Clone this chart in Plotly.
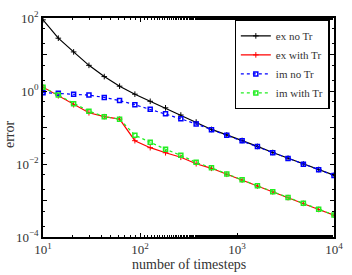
import numpy as np
import plotly.graph_objects as go

timesteps = list(np.logspace(1, 4, 20))

log_ex_no_tr = [1.95, 1.447, 1.071, 0.703, 0.395, 0.132, -0.087, -0.282, -0.461, -0.658,
                -0.850, -1.053, -1.203, -1.355, -1.518, -1.684, -1.842, -2.0, -2.150, -2.308]
log_ex_with_tr = [0.105, -0.132, -0.376, -0.597, -0.703, -0.771, -1.361, -1.553, -1.692, -1.816,
                  -1.992, -2.118, -2.282, -2.439, -2.605, -2.763, -2.921, -3.079, -3.245, -3.403]
log_im_no_tr = [-0.045, -0.061, -0.087, -0.113, -0.176, -0.263, -0.376, -0.5, -0.624, -0.763,
                -0.903, -1.06, -1.21, -1.36, -1.523, -1.689, -1.847, -2.005, -2.155, -2.313]
log_im_with_tr = [0.105, -0.113, -0.350, -0.553, -0.703, -0.771, -1.211, -1.403, -1.597, -1.763,
                  -1.955, -2.105, -2.275, -2.433, -2.599, -2.757, -2.915, -3.073, -3.239, -3.397]

ex_no_tr = [10 ** v for v in log_ex_no_tr]
ex_with_tr = [10 ** v for v in log_ex_with_tr]
im_no_tr = [10 ** v for v in log_im_no_tr]
im_with_tr = [10 ** v for v in log_im_with_tr]

font_family = "Liberation Serif"
gray = "#333333"

fig = go.Figure()
fig.add_trace(go.Scatter(x=timesteps, y=ex_no_tr, name="ex no Tr", mode="lines+markers",
                         line=dict(color="black", width=1.2),
                         marker=dict(symbol="cross-thin", size=4, line=dict(color="black", width=1))))
fig.add_trace(go.Scatter(x=timesteps, y=ex_with_tr, name="ex with Tr", mode="lines+markers",
                         line=dict(color="red", width=1.2),
                         marker=dict(symbol="cross-thin", size=4, line=dict(color="red", width=1))))
fig.add_trace(go.Scatter(x=timesteps, y=im_no_tr, name="im no Tr", mode="lines+markers",
                         line=dict(color="blue", width=1.2, dash="dot"),
                         marker=dict(symbol="square-open", size=4, color="blue", line=dict(width=1.5))))
fig.add_trace(go.Scatter(x=timesteps, y=im_with_tr, name="im with Tr", mode="lines+markers",
                         line=dict(color="#22ee22", width=1.2, dash="dot"),
                         marker=dict(symbol="square-open", size=4, color="#22ee22", line=dict(width=1.5))))

xt = [10, 100, 1000, 10000]
xtt = ["10<sup>1</sup>", "10<sup>2</sup>", "10<sup>3</sup>", "10<sup>4</sup>"]
yt = [1e-4, 1e-3, 1e-2, 1e-1, 1, 10, 100]
ytt = ["10<sup>−4</sup>", "", "10<sup>−2</sup>", "", "10<sup>0</sup>", "", "10<sup>2</sup>"]

axis_common = dict(type="log", showgrid=False, zeroline=False, showline=True, linecolor="black",
                   linewidth=1.5, mirror="allticks", ticks="inside", ticklen=4, tickcolor="black",
                   tickfont=dict(family=font_family, size=13, color=gray),
                   minor=dict(ticks="inside", ticklen=2, tickcolor="black", showgrid=False))

fig.update_xaxes(**axis_common, range=[1, 4], tickvals=xt, ticktext=xtt)
fig.update_yaxes(**axis_common, range=[-4, 2], tickvals=yt, ticktext=ytt)

fig.add_annotation(text="number of timesteps", xref="paper", yref="paper", x=0.5, y=-0.125,
                   xanchor="center", yanchor="middle", showarrow=False,
                   font=dict(family=font_family, size=14, color=gray))
fig.add_annotation(text="error", xref="paper", yref="paper", x=-0.117, y=0.47,
                   xanchor="center", yanchor="middle", showarrow=False, textangle=-90,
                   font=dict(family=font_family, size=14, color=gray))

fig.update_layout(
    width=352, height=275,
    margin=dict(l=43, r=9, t=9, b=38),
    plot_bgcolor="white", paper_bgcolor="white",
    showlegend=True,
    legend=dict(x=0.985, y=0.99, xanchor="right", yanchor="top",
                bgcolor="white", bordercolor="black", borderwidth=1.2,
                font=dict(family=font_family, size=11, color=gray),
                tracegroupgap=0, itemwidth=30),
)

fig.write_html("out.html", config={"displayModeBar": False},
               post_script="document.body.style.margin='0px';")
